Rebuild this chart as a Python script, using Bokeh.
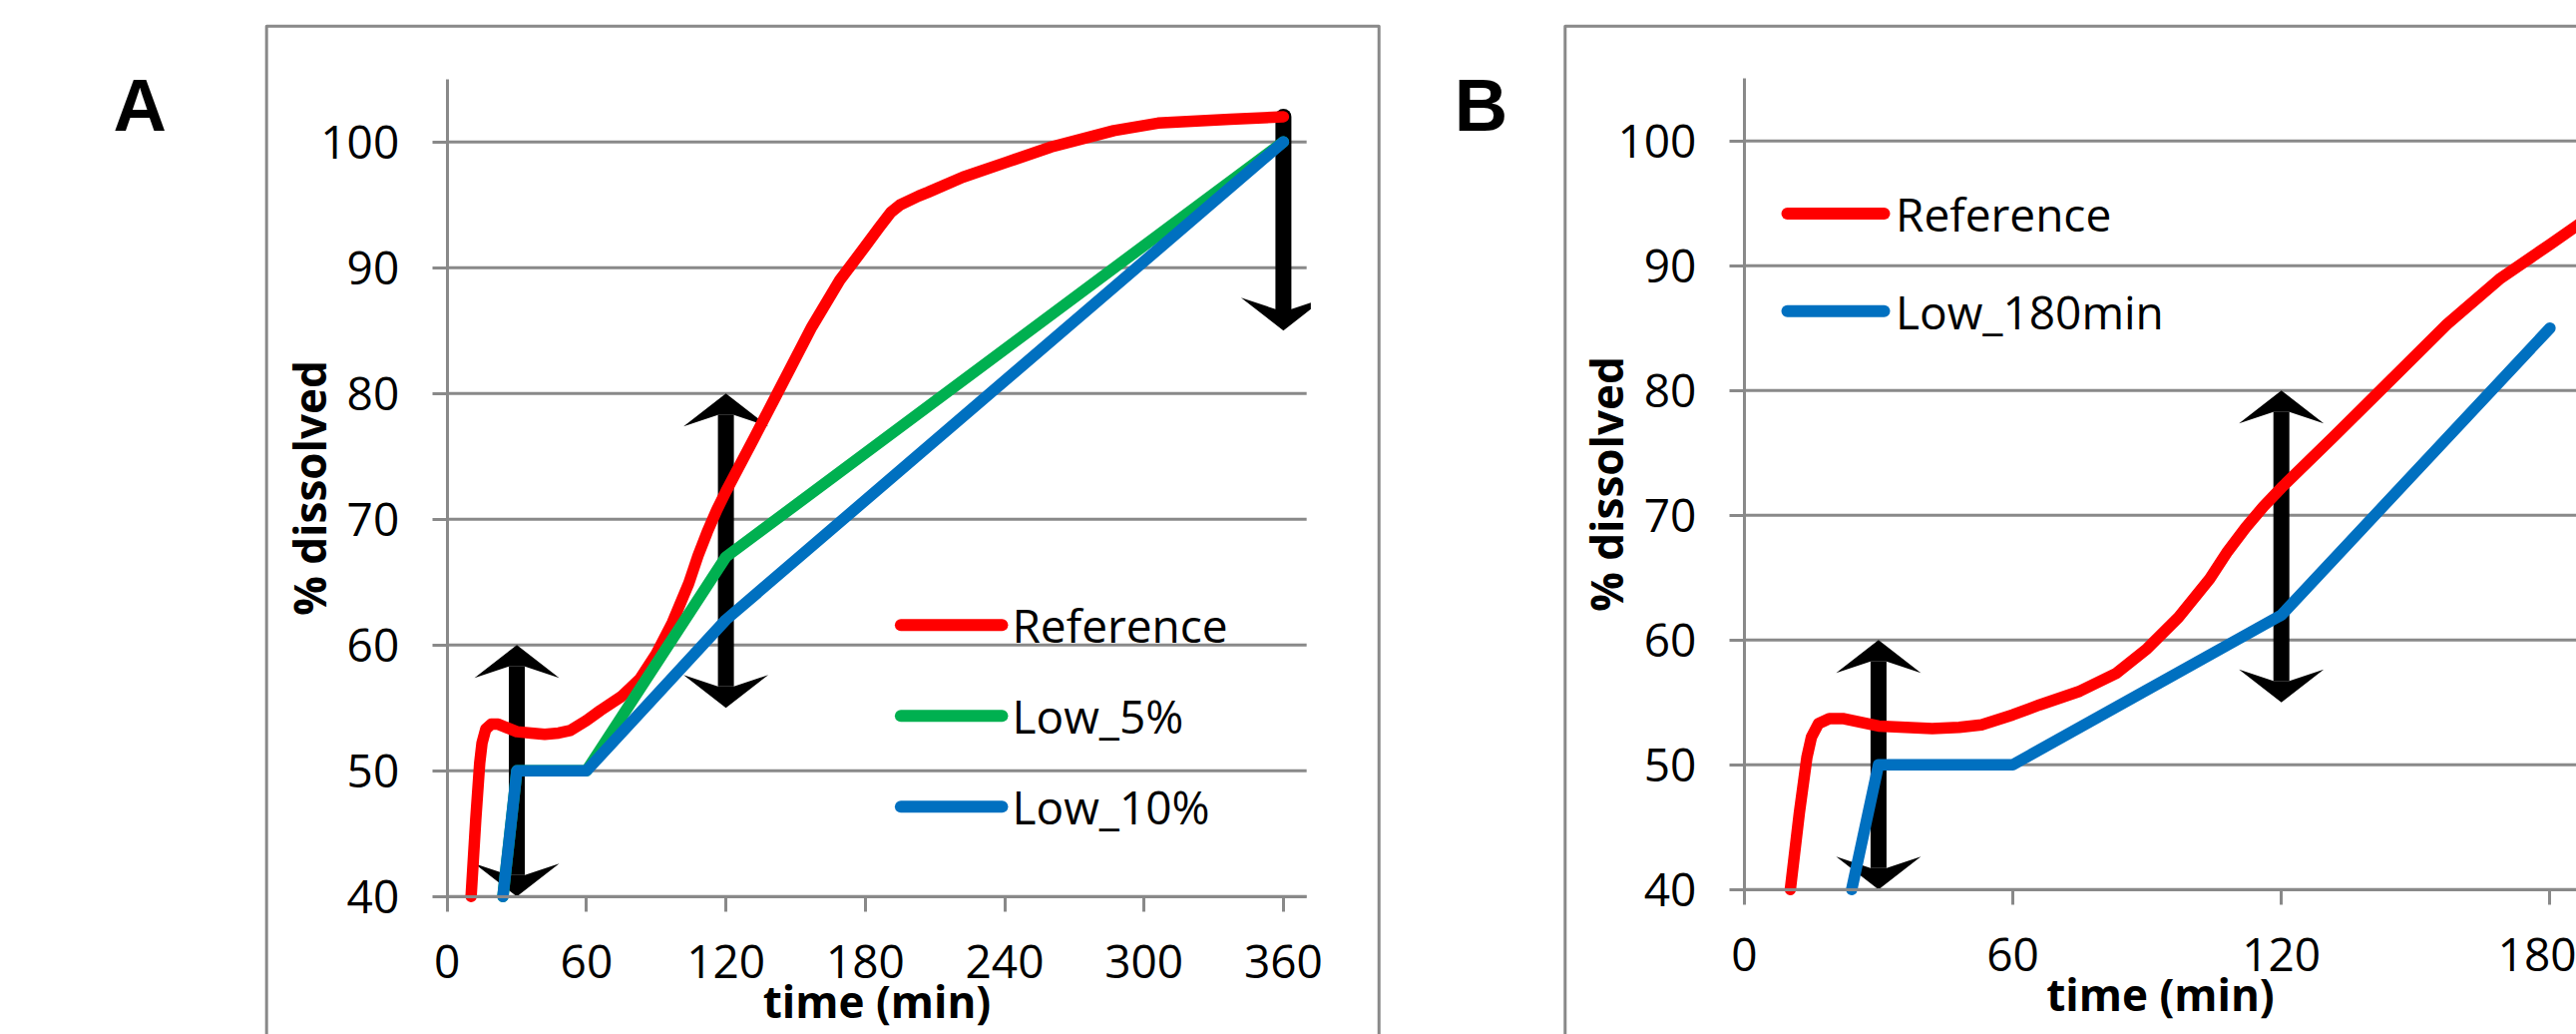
from bokeh.plotting import figure
from bokeh.models import LinearAxis, FixedTicker, Range1d
from bokeh.layouts import row
from bokeh.embed import file_html
from bokeh.resources import INLINE
from bokeh.core.properties import value

# ---------------- data ----------------
ref_time = [10.3, 12.3, 14.0, 15.0, 16.6, 19, 22, 26, 30, 36, 42, 48, 53, 60, 66, 75, 83,
            90, 97, 104, 108, 112, 116, 120, 132, 141, 157, 169, 180, 186, 191, 195, 203,
            207, 222, 241, 260, 287, 306, 337, 360]
ref_pct = [40.0, 46.1, 50.6, 52.2, 53.3, 53.7, 53.7, 53.4, 53.1, 53.0, 52.9, 53.0, 53.2,
           54.0, 54.8, 55.9, 57.3, 59.3, 61.8, 64.9, 67.1, 69.0, 70.7, 72.2, 76.4, 79.6,
           85.3, 89.0, 91.7, 93.2, 94.4, 95.0, 95.7, 96.0, 97.2, 98.4, 99.6, 100.9, 101.5,
           101.8, 102.0]

low5_time = [24, 30, 60, 120, 360]
low5_pct = [40, 50, 50, 67, 100]
low10_time = [24, 30, 60, 120, 360]
low10_pct = [40, 50, 50, 62, 100]
low180_time = [24, 30, 60, 120, 180]
low180_pct = [40, 50, 50, 62, 85]

y_ticks = [40, 50, 60, 70, 80, 90, 100]
x_ticks_a = [0, 60, 120, 180, 240, 300, 360]
x_ticks_b = [0, 60, 120, 180]

# double-headed arrows: (time, low end, high end)
arrows_a = [(30, 40, 60), (120, 55, 80)]
arrows_b = [(30, 40, 60), (120, 55, 80)]
# single arrow pointing down: (time, start, tip)
arrow_a_down = (360, 102, 85)

# ---------------- styling ----------------
H = 1036
GRAY = "#898989"
RED, GREEN, BLUE = "#FF0000", "#00B050", "#0070C0"
LW = 11.5
HEAD_HALF, HEAD_LEN, NOTCH, SHAFT = 42.5, 33, 21.5, 16


def clip_x(xs, ys, xmax):
    ox, oy = [], []
    n = len(xs)
    for i in range(n):
        x1, y1 = xs[i], ys[i]
        x2, y2 = xs[(i + 1) % n], ys[(i + 1) % n]
        in1, in2 = x1 <= xmax, x2 <= xmax
        if in1:
            ox.append(x1)
            oy.append(y1)
        if in1 != in2:
            t = (xmax - x1) / (x2 - x1)
            ox.append(xmax)
            oy.append(y1 + t * (y2 - y1))
    return ox, oy


def head(x, yt, d, ppx, ppy, xmax=None):
    xs = [x, x + HEAD_HALF / ppx, x + 8 / ppx, x - 8 / ppx, x - HEAD_HALF / ppx]
    ys = [yt, yt - d * HEAD_LEN / ppy, yt - d * NOTCH / ppy, yt - d * NOTCH / ppy,
          yt - d * HEAD_LEN / ppy]
    if xmax is not None:
        xs, ys = clip_x(xs, ys, xmax)
    return xs, ys


def style_axis(ax):
    ax.axis_line_color = GRAY
    ax.axis_line_width = 3
    ax.major_tick_line_color = GRAY
    ax.major_tick_line_width = 3
    ax.major_tick_out = 15
    ax.major_tick_in = 0
    ax.minor_tick_line_color = None
    ax.minor_tick_out = 0
    ax.minor_tick_in = 0
    ax.major_label_text_font = "Open Sans"
    ax.major_label_text_font_size = "46px"
    ax.major_label_text_color = "black"
    ax.axis_label_text_font = "Open Sans"
    ax.axis_label_text_font_size = "44px"
    ax.axis_label_text_font_style = "bold"
    ax.axis_label_text_color = "black"


def panel(width, x0_px, ppx, y40_px, ppy, xmax, xticks, frame, letter, letter_pos,
          series, legend, arrows, down_arrow=None, head_clip=None):
    xr = Range1d(-x0_px / ppx, (width - x0_px) / ppx)
    yr = Range1d(40 - (H - y40_px) / ppy, 40 + y40_px / ppy)
    p = figure(width=width, height=H, x_range=xr, y_range=yr,
               x_axis_type=None, y_axis_type=None, toolbar_location=None,
               output_backend="svg", min_border_left=0, min_border_right=0,
               min_border_top=0, min_border_bottom=0)
    p.outline_line_color = None
    p.background_fill_color = "white"
    p.border_fill_color = "white"

    # horizontal gridlines
    p.segment(x0=[0] * len(y_ticks), x1=[xmax] * len(y_ticks), y0=y_ticks, y1=y_ticks,
              line_color=GRAY, line_width=3)

    # chart-area frame
    fx, fy = frame
    p.line(x=fx, y=fy, line_color=GRAY, line_width=3, line_join="round")

    # axes placed at the data origin
    yax = LinearAxis(fixed_location=0, bounds=(40, 105),
                     ticker=FixedTicker(ticks=y_ticks, minor_ticks=[]),
                     axis_label="% dissolved")
    style_axis(yax)
    yax.major_label_standoff = 33
    yax.axis_label_standoff = -21
    p.add_layout(yax, "left")

    xax = LinearAxis(fixed_location=40, bounds=(0, xmax),
                     ticker=FixedTicker(ticks=xticks, minor_ticks=[]),
                     axis_label="time (min)")
    style_axis(xax)
    xax.major_label_standoff = 34
    xax.axis_label_standoff = -11
    p.add_layout(xax, "below")

    # arrows
    for (t, lo, hi) in arrows:
        p.segment(x0=[t], x1=[t], y0=[lo + NOTCH / ppy], y1=[hi - NOTCH / ppy],
                  line_color="black", line_width=SHAFT, line_cap="butt")
        hx1, hy1 = head(t, hi, 1, ppx, ppy, head_clip)
        hx2, hy2 = head(t, lo, -1, ppx, ppy, head_clip)
        p.patches(xs=[hx1, hx2], ys=[hy1, hy2], fill_color="black", line_color=None)
    if down_arrow is not None:
        t, start, tip = down_arrow
        p.segment(x0=[t], x1=[t], y0=[start], y1=[tip + NOTCH / ppy],
                  line_color="black", line_width=SHAFT, line_cap="round")
        hx, hy = head(t, tip, -1, ppx, ppy, head_clip)
        p.patch(x=hx, y=hy, fill_color="black", line_color=None)

    # data series
    for (xs, ys, col) in series:
        p.line(x=xs, y=ys, line_color=col, line_width=LW, line_join="round",
               line_cap="round")

    # legend (drawn)
    (lx0, lx1, tx), entries = legend
    for (ly, col, name) in entries:
        p.segment(x0=[lx0], x1=[lx1], y0=[ly], y1=[ly], line_color=col,
                  line_width=12, line_cap="round")
        p.text(x=[tx], y=[ly], text=[name], text_font=value("Open Sans"),
               text_font_size=value("46px"), text_color="black",
               text_baseline="middle", text_align="left")

    # panel letter
    p.text(x=[letter_pos[0]], y=[letter_pos[1]], text=[letter],
           text_font=value("Liberation Sans"), text_font_style="bold",
           text_font_size=value("74px"), text_color="black",
           text_baseline="alphabetic", text_align="left")
    return p


# ---------- panel A ----------
WA = 1420
pA = panel(
    WA, 447.7, 139.7 / 60, 897.7, 12.6, 370, x_ticks_a,
    frame=([-77.74, -77.74, 401.15, 401.15], [20, 109.21, 109.21, 20]),
    letter="A", letter_pos=(-143.75, 102.91),
    series=[(ref_time, ref_pct, RED), (low5_time, low5_pct, GREEN),
            (low10_time, low10_pct, BLUE)],
    legend=((195.3, 238.9, 243.2),
            [(61.59, RED, "Reference"), (54.37, GREEN, "Low_5%"),
             (47.14, BLUE, "Low_10%")]),
    arrows=arrows_a, down_arrow=arrow_a_down, head_clip=371.8)

# ---------- panel B ----------
WB = 2582 - WA
pB = panel(
    WB, 1747.8 - WA, 269.2 / 60, 890.7, 12.5, 190, x_ticks_b,
    frame=([-40.01, -40.01, 400], [20, 109.2, 109.2]),
    letter="B", letter_pos=(-64.75, 102.86),
    series=[(ref_time, ref_pct, RED), (low180_time, low180_pct, BLUE)],
    legend=((9.63, 31.25, 33.81),
            [(94.18, RED, "Reference"), (86.35, BLUE, "Low_180min")]),
    arrows=arrows_b)

layout = row(pA, pB)
open("out.html", "w").write(file_html(layout, INLINE))
